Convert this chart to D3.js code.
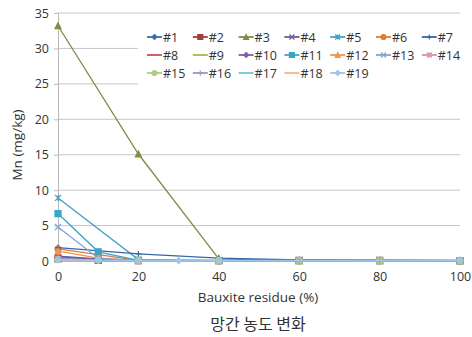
<!DOCTYPE html>
<html><head><meta charset="utf-8">
<script src="https://cdn.jsdelivr.net/npm/d3@7"></script>
<style>body{margin:0;background:#fff;} svg{display:block;}</style>
</head><body><svg id="c" width="472" height="337"></svg>
<script>
const xValues = [0,10,20,30,40,60,80,100];
const seriesNames = ["#1","#2","#3","#4","#5","#6","#7","#8","#9","#10","#11","#12","#13","#14","#15","#16","#17","#18","#19"];
const s1  = [0.7, 0.3, 0.1, null, 0.05, 0.05, 0.05, 0.05];
const s2  = [0.3, 0.1, 0.05, null, 0.05, 0.1, 0.1, 0.05];
const s3  = [33.2, null, 15.1, null, 0.3, 0.05, 0.05, 0.05];
const s4  = [0.6, 0.2, 0.1, null, 0.05, 0.1, 0.1, 0.05];
const s5  = [8.9, null, 0.2, null, 0.1, 0.05, 0.05, 0.05];
const s6  = [1.7, 0.9, 0.1, null, 0.05, 0.05, 0.05, 0.05];
const s7  = [1.9, null, 1.0, null, 0.4, 0.15, 0.1, 0.1];
const s8  = [0.2, 0.05, 0.05, null, 0.05, 0.05, 0.05, 0.05];
const s9  = [0.1, 0.05, 0.05, null, 0.1, 0.1, 0.1, 0.1];
const s10 = [0.5, 0.2, 0.05, null, 0.05, 0.05, 0.1, 0.05];
const s11 = [6.7, 1.3, 0.1, null, 0.05, 0.05, 0.05, 0.05];
const s12 = [1.4, 0.4, 0.05, null, 0.05, 0.05, 0.05, 0.05];
const s13 = [4.8, 0.4, 0.05, null, 0.05, 0.05, 0.05, 0.05];
const s14 = [0.3, 0.1, 0.05, null, 0.05, 0.05, 0.05, 0.05];
const s15 = [0.2, 0.1, 0.05, null, 0.05, 0.05, 0.05, 0.05];
const s16 = [0.4, 0.1, 0.05, null, 0.05, 0.05, 0.05, 0.05];
const s17 = [0.1, 0.05, 0.05, null, 0.05, 0.05, 0.05, 0.05];
const s18 = [0.15, 0.05, 0.05, null, 0.05, 0.05, 0.05, 0.05];
const s19 = [0.2, 0.1, 0.05, 0.05, 0.05, null, null, 0.1];
const seriesValues = [s1,s2,s3,s4,s5,s6,s7,s8,s9,s10,s11,s12,s13,s14,s15,s16,s17,s18,s19];
const seriesColors = ["#3a6db0","#a53c3e","#7a8e45","#6b5a98","#3fa2c0","#e07a38","#3566a8","#c9504f","#9bbb59","#7a62a8","#39a6c8","#f39550","#7fa4d6","#d9959f","#b1cc82","#a492c8","#6fc6dc","#f5b584","#9ec6ea"];
const seriesMarkers = ["diamond","square","triangle","x","star","circle","plus","none","none","diamond","square","triangle","x","star","circle","plus","none","none","diamond"];
const yTicks = [0,5,10,15,20,25,30,35];
const xTicks = [0,20,40,60,80,100];

const svg = d3.select("#c");
const x = d3.scaleLinear().domain([0,100]).range([58,460]);
const y = d3.scaleLinear().domain([0,35]).range([261,13]);

svg.append("g").selectAll("line").data(yTicks.filter(d=>d>0)).join("line")
  .attr("x1",58).attr("x2",460).attr("y1",d=>y(d)).attr("y2",d=>y(d))
  .attr("stroke","#c4c6cc").attr("stroke-width",1);

const ya = svg.append("g").attr("transform","translate(58,0)")
  .call(d3.axisLeft(y).tickValues(yTicks).tickSize(4).tickPadding(5));
ya.select(".domain").attr("stroke","#b8b8b8");
ya.selectAll(".tick line").attr("stroke","#b8b8b8");
ya.selectAll("text").attr("font-family","'Open Sans', sans-serif").attr("font-size",12.5).attr("fill","#333");

const xa = svg.append("g").attr("transform","translate(0,261)")
  .call(d3.axisBottom(x).tickValues(xTicks).tickSize(0).tickPadding(11));
xa.select(".domain").attr("stroke","#b8b8b8");
xa.selectAll("text").attr("font-family","'Open Sans', sans-serif").attr("font-size",12.5).attr("fill","#333");

const line = d3.line().x(d=>x(d[0])).y(d=>y(d[1]));
function markerPath(type, s){
  const h=s/2;
  switch(type){
    case "diamond": return `M0,${-h}L${h},0L0,${h}L${-h},0Z`;
    case "square": return `M${-h},${-h}h${s}v${s}h${-s}Z`;
    case "triangle": return `M0,${-h}L${h},${h}L${-h},${h}Z`;
    case "x": return `M${-h},${-h}L${h},${h}M${h},${-h}L${-h},${h}`;
    case "star": return `M${-h},${-h}L${h},${h}M${h},${-h}L${-h},${h}M0,${-h}V${h}`;
    case "plus": return `M${-h},0H${h}M0,${-h}V${h}`;
    case "circle": return d3.symbol(d3.symbolCircle, s*s*0.8)();
    default: return "";
  }
}
const filled = t => ["diamond","square","triangle","circle"].includes(t);

seriesValues.forEach((vals,i)=>{
  const pts = xValues.map((xv,j)=>[xv, vals[j]]).filter(d=>d[1]!==null);
  const g = svg.append("g");
  g.append("path").attr("d",line(pts)).attr("fill","none")
    .attr("stroke",seriesColors[i]).attr("stroke-width",1.3);
  if(seriesMarkers[i]!=="none"){
    g.selectAll("path.m").data(pts).join("path").attr("class","m")
      .attr("transform",d=>`translate(${x(d[0])},${y(d[1])})`)
      .attr("d",markerPath(seriesMarkers[i],6))
      .attr("fill",filled(seriesMarkers[i])?seriesColors[i]:"none")
      .attr("stroke",seriesColors[i]).attr("stroke-width",1.2);
  }
});

svg.append("rect").attr("x",138).attr("y",25).attr("width",334).attr("height",62).attr("fill","#fff");
const lg = svg.append("g");
seriesNames.forEach((n,i)=>{
  const col=i%7, row=Math.floor(i/7);
  const lx=147+col*45.8, ly=37+row*18;
  lg.append("line").attr("x1",lx).attr("x2",lx+15).attr("y1",ly).attr("y2",ly)
    .attr("stroke",seriesColors[i]).attr("stroke-width",1.8);
  if(seriesMarkers[i]!=="none"){
    lg.append("path").attr("transform",`translate(${lx+7.5},${ly})`)
      .attr("d",markerPath(seriesMarkers[i],5))
      .attr("fill",filled(seriesMarkers[i])?seriesColors[i]:"none")
      .attr("stroke",seriesColors[i]).attr("stroke-width",1.2);
  }
  lg.append("text").attr("x",lx+16).attr("y",ly+4.5).text(n)
    .attr("font-family","'Open Sans', sans-serif").attr("font-size",12.5).attr("fill","#333");
});

svg.append("text").attr("transform","translate(22,145) rotate(-90)").attr("text-anchor","middle")
  .attr("font-family","'Open Sans', sans-serif").attr("font-size",13.5).attr("fill","#333").text("Mn (mg/kg)");
svg.append("text").attr("x",258).attr("y",302).attr("text-anchor","middle")
  .attr("font-family","'Open Sans', sans-serif").attr("font-size",13.5).attr("fill","#333").text("Bauxite residue (%)");
svg.append("text").attr("x",258).attr("y",330).attr("text-anchor","middle")
  .attr("font-family","'Noto Sans CJK KR', sans-serif").attr("font-size",16).attr("fill","#333").text("망간 농도 변화");
</script></body></html>
